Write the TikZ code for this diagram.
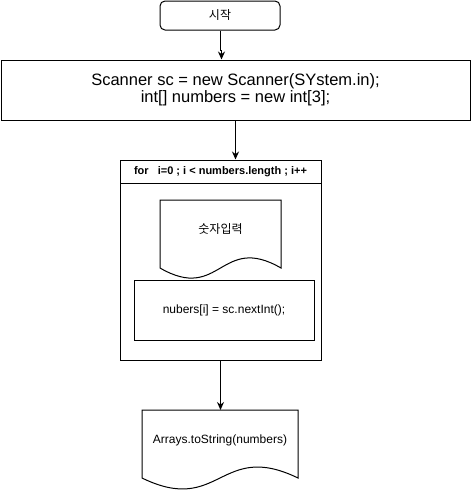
\documentclass[tikz,border=0pt]{standalone}
\usepackage{fontspec}
\setmainfont{Liberation Sans}
\newfontfamily\kr{Noto Sans CJK KR}
\usetikzlibrary{arrows.meta}

\begin{document}
\begin{tikzpicture}[x=1pt,y=-1pt,line width=1pt,
    box/.style={draw,rectangle,inner sep=0pt},
    arr/.style={-{Stealth[length=8pt,width=7pt]}},
    txt/.style={font=\fontsize{12}{14}\selectfont}]
    \useasboundingbox (0,0) rectangle (471,491);
    % start and setup
    \node[box,txt,rounded corners=5pt,minimum width=120,minimum height=29] (start) at (220,15.5) {\kr 시작};
    \node[box,minimum width=469,minimum height=60,align=center,font=\fontsize{16.5}{17}\selectfont] (setup) at (235.5,90) {Scanner sc = new Scanner(SYstem.in);\\int[] numbers = new int[3];};
    \coordinate (jog) at (221.5,50);
    \draw[arr] (start.south) |- (jog) -- (jog |- setup.north);
    % for loop
    \node[box,minimum width=201,minimum height=200] (loop) at (220.5,260) {};
    \draw (120,183) -- (321,183);
    \node[font=\bfseries\fontsize{11}{13}\selectfont] (head) at (220.5,171.5) {for\ \ \ i=0 ; i < numbers.length ; i++};
    \draw[arr] (setup.south) -- (setup.south |- loop.north);
    \draw (160,200) -- (281,200) -- (281,268) .. controls (220.5,233) and (220.5,303) .. (160,268) -- cycle;
    \node[txt] (input) at (220.5,229) {\kr 숫자입력};
    \node[box,txt,minimum width=180,minimum height=60] (read) at (224,310) {nubers[i] = sc.nextInt();};
    % output
    \draw (142,410) -- (298,410) -- (298,478) .. controls (220,440) and (220,516) .. (142,478) -- cycle;
    \node[txt] (print) at (220,440) {Arrays.toString(numbers)};
    \coordinate (outtop) at (220.5,410);
    \draw[arr] (loop.south) -- (outtop);
\end{tikzpicture}
\end{document}
